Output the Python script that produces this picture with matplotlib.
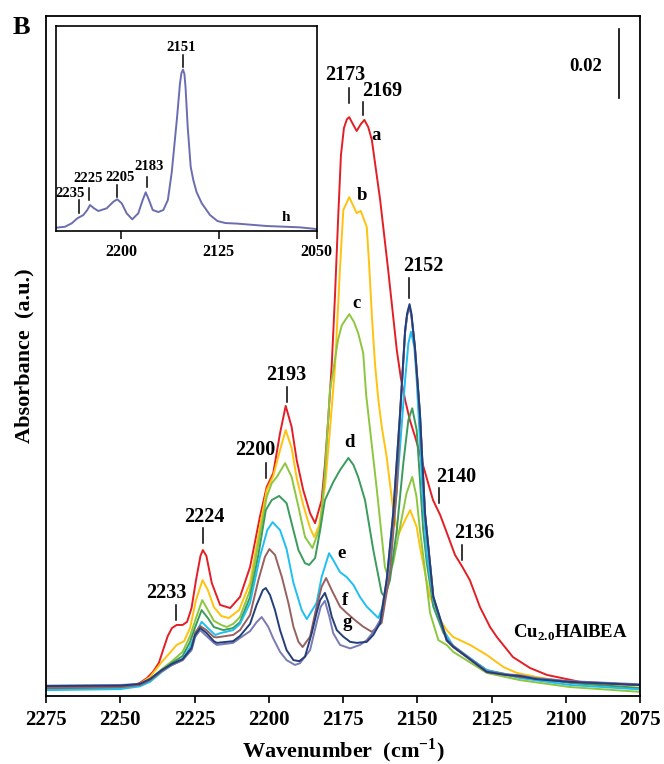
import matplotlib
matplotlib.use("Agg")
import matplotlib.pyplot as plt

plt.rcParams['font.family'] = ['Liberation Serif', 'DejaVu Serif']
plt.rcParams['font.weight'] = 'bold'
plt.rcParams['mathtext.fontset'] = 'custom'
plt.rcParams['mathtext.rm'] = 'Liberation Serif:bold'
plt.rcParams['mathtext.bf'] = 'Liberation Serif:bold'

# ---- spectra (wavenumber in cm-1, absorbance) ----
wn_a = [2275, 2260, 2250, 2245, 2243.4, 2241, 2239, 2237, 2235.6, 2234, 2232.6, 2231, 2229, 2227.5, 2226,
        2224.5, 2223, 2222.2, 2221, 2219.2, 2216.4, 2213, 2209.7, 2206.3, 2203, 2200.7, 2198.5, 2196.2, 2194.3,
        2192.3, 2190.6, 2188.4, 2186.1, 2184.4, 2182.2, 2181.1, 2180.0, 2178.8, 2177.7, 2176.6, 2175.7, 2174.7,
        2173.7, 2172.9, 2171.5, 2170.4, 2169, 2167.8, 2166.5, 2165.3, 2162.5, 2159.8, 2156.9, 2155.5, 2154,
        2152.5, 2150.5, 2148.0, 2144.7, 2142.3, 2140.0, 2137.3, 2135.0, 2132.3, 2128.9, 2125.5, 2123.2, 2117.8,
        2112, 2106.3, 2095.2, 2075]
abs_a = [0.0026, 0.0026, 0.0029, 0.0033, 0.0038, 0.0052, 0.0070, 0.0096, 0.0133, 0.0174, 0.0197, 0.0206, 0.0206,
         0.0215, 0.0255, 0.0336, 0.0406, 0.0423, 0.0406, 0.0328, 0.0264, 0.0255, 0.0287, 0.0374, 0.0519, 0.0606,
         0.0646, 0.0762, 0.0841, 0.0780, 0.0684, 0.0597, 0.0530, 0.0501, 0.0568, 0.0670, 0.0800, 0.0959, 0.1162,
         0.1394, 0.1568, 0.1646, 0.1672, 0.1678, 0.1655, 0.1638, 0.1658, 0.1670, 0.1649, 0.1612, 0.1438, 0.1235,
         0.1003, 0.0920, 0.0855, 0.0800, 0.0745, 0.0667, 0.0568, 0.0525, 0.0472, 0.0409, 0.0377, 0.0336, 0.0258,
         0.0200, 0.0171, 0.0113, 0.0081, 0.0061, 0.0041, 0.0032]

wn_b = [2275, 2250, 2243.4, 2240, 2236, 2233, 2231, 2228.5, 2226.5, 2224.5, 2222.3, 2220.5, 2218.5, 2216, 2213.5,
        2210, 2206.3, 2203, 2200.7, 2198.5, 2196.2, 2194.3, 2192.3, 2190.6, 2188.4, 2186.1, 2184.7, 2183, 2181,
        2179.5, 2177.7, 2176.0, 2174.9, 2172.9, 2170.4, 2169.0, 2167.0, 2166.2, 2165.2, 2164.2, 2163.1, 2161.9,
        2160.3, 2158.1, 2156.4, 2154.1, 2152.4, 2150.2, 2149.1, 2147.4, 2145.7, 2142.9, 2140.1, 2137.9, 2132.2,
        2126.6, 2121, 2116.5, 2109.8, 2095, 2075]
abs_b = [0.0023, 0.0026, 0.0035, 0.0055, 0.0099, 0.0128, 0.0148, 0.0159, 0.0197, 0.0278, 0.0336, 0.0307, 0.0258,
         0.0232, 0.0226, 0.0249, 0.0328, 0.0490, 0.0597, 0.0638, 0.0713, 0.0771, 0.0719, 0.0632, 0.0554, 0.0487,
         0.0461, 0.0496, 0.0612, 0.0762, 0.0954, 0.1243, 0.1409, 0.1446, 0.1400, 0.1406, 0.1359, 0.1249, 0.1090,
         0.0959, 0.0858, 0.0777, 0.0693, 0.0539, 0.0467, 0.0510, 0.0539, 0.0490, 0.0432, 0.0357, 0.0287, 0.0229,
         0.0191, 0.0171, 0.0148, 0.0119, 0.0084, 0.0067, 0.0055, 0.0035, 0.0023]

wn_c = [2275, 2250, 2243.4, 2240, 2236, 2232.6, 2229, 2226.5, 2224.5, 2222.4, 2220.5, 2218.5, 2216, 2214.2, 2212,
        2209.7, 2206.3, 2203.5, 2200.7, 2199, 2197.3, 2194.5, 2192.3, 2190, 2187.8, 2185.3, 2182.7, 2181.1, 2179.4,
        2178, 2176.7, 2175.4, 2172.9, 2171.3, 2169.9, 2168.2, 2167.2, 2163.6, 2160.9, 2159.8, 2158.1, 2155.8,
        2153.6, 2151.7, 2150.3, 2149.1, 2147.4, 2145.7, 2142.9, 2140.1, 2137.9, 2126.6, 2115.4, 2098.6, 2075]
abs_c = [0.0020, 0.0023, 0.0032, 0.0049, 0.0078, 0.0101, 0.0128, 0.0174, 0.0226, 0.0278, 0.0249, 0.0218, 0.0206,
         0.0200, 0.0209, 0.0229, 0.0307, 0.0443, 0.0577, 0.0617, 0.0635, 0.0675, 0.0635, 0.0548, 0.0461, 0.0429,
         0.0490, 0.0646, 0.0887, 0.0959, 0.1032, 0.1075, 0.1107, 0.1084, 0.1052, 0.0994, 0.0872, 0.0597, 0.0374,
         0.0345, 0.0386, 0.0490, 0.0588, 0.0635, 0.0580, 0.0481, 0.0365, 0.0241, 0.0162, 0.0148, 0.0128, 0.0067,
         0.0046, 0.0026, 0.0012]

wn_d = [2275, 2250, 2243.4, 2240, 2236, 2232.6, 2229, 2226.5, 2224.5, 2222.6, 2220.5, 2218.5, 2215.3, 2212, 2209.7,
        2206.3, 2203.5, 2201, 2199, 2196.5, 2194, 2192.3, 2190, 2187.8, 2186.4, 2184.4, 2182.7, 2181.1, 2178.3,
        2176, 2173.2, 2171.5, 2169.9, 2167.6, 2164.8, 2162, 2160.9, 2159.2, 2156.9, 2154.7, 2153, 2151.7, 2150.2,
        2149.1, 2148, 2146.8, 2144.6, 2141.2, 2137.9, 2126.6, 2115.4, 2098.6, 2075]
abs_d = [0.0022, 0.0025, 0.0032, 0.0046, 0.0075, 0.0096, 0.0116, 0.0157, 0.0206, 0.0249, 0.0226, 0.0200, 0.0191,
         0.0197, 0.0214, 0.0287, 0.0409, 0.0539, 0.0568, 0.0580, 0.0559, 0.0501, 0.0423, 0.0385, 0.0380, 0.0400,
         0.0481, 0.0568, 0.0620, 0.0655, 0.0690, 0.0670, 0.0635, 0.0568, 0.0423, 0.0299, 0.0287, 0.0336, 0.0481,
         0.0675, 0.0800, 0.0834, 0.0771, 0.0626, 0.0481, 0.0386, 0.0259, 0.0183, 0.0142, 0.0075, 0.0055, 0.0038,
         0.0023]

wn_e = [2275, 2250, 2243.4, 2240, 2236, 2232.6, 2229, 2226.5, 2224.5, 2222.6, 2220.5, 2218, 2216.4, 2212, 2209.7,
        2206.3, 2203, 2200.5, 2198.7, 2196.2, 2194, 2191.7, 2188.9, 2187.2, 2183.9, 2182.2, 2179.7, 2178.3, 2176,
        2173.8, 2171.5, 2169.3, 2167, 2163.1, 2161.4, 2159.2, 2156.9, 2155.8, 2154.1, 2153, 2152.1, 2151, 2150.2,
        2149.3, 2148.2, 2146.8, 2144.6, 2141.2, 2137.9, 2126.6, 2115.4, 2098.6, 2075]
abs_e = [0.0017, 0.0020, 0.0028, 0.0041, 0.0070, 0.0090, 0.0107, 0.0142, 0.0183, 0.0215, 0.0197, 0.0177, 0.0182,
         0.0191, 0.0209, 0.0270, 0.0403, 0.0481, 0.0504, 0.0481, 0.0426, 0.0328, 0.0249, 0.0223, 0.0270, 0.0345,
         0.0414, 0.0394, 0.0359, 0.0345, 0.0322, 0.0287, 0.0259, 0.0226, 0.0264, 0.0403, 0.0597, 0.0722, 0.0916,
         0.1022, 0.1056, 0.1012, 0.0916, 0.0771, 0.0578, 0.0414, 0.0278, 0.0191, 0.0145, 0.0075, 0.0052, 0.0032,
         0.0019]

wn_f = [2275, 2250, 2243.4, 2240, 2236, 2232.6, 2229, 2226, 2224.8, 2223.1, 2221, 2218.5, 2217.5, 2212, 2209.7,
        2206.3, 2203.5, 2201.3, 2199.8, 2197.9, 2195.6, 2193.4, 2191.7, 2190, 2188.6, 2186.1, 2183.9, 2182.2,
        2180.7, 2178.8, 2176, 2173.8, 2171, 2168.2, 2165.3, 2162, 2159.2, 2156.9, 2155.8, 2154.1, 2153.4, 2152.6,
        2152, 2150.8, 2149.1, 2147.4, 2144.6, 2140.1, 2137.9, 2126.6, 2115.4, 2098.6, 2075]
abs_f = [0.0023, 0.0026, 0.0032, 0.0046, 0.0072, 0.0090, 0.0104, 0.0139, 0.0183, 0.0203, 0.0191, 0.0171, 0.0170,
         0.0177, 0.0191, 0.0235, 0.0336, 0.0403, 0.0426, 0.0409, 0.0345, 0.0270, 0.0201, 0.0157, 0.0142, 0.0172,
         0.0259, 0.0317, 0.0342, 0.0307, 0.0259, 0.0241, 0.0220, 0.0201, 0.0186, 0.0212, 0.0357, 0.0597, 0.0810,
         0.1055, 0.1105, 0.1125, 0.1105, 0.1008, 0.0815, 0.0527, 0.0286, 0.0160, 0.0142, 0.0069, 0.0055, 0.0040,
         0.0031]

wn_g = [2275, 2250, 2243.4, 2240, 2236, 2232.6, 2229, 2226, 2224.8, 2223.1, 2221, 2218.5, 2217.5, 2212, 2209.7,
        2206.3, 2204.1, 2202, 2201, 2199.6, 2197.9, 2196.2, 2194, 2191.7, 2189.7, 2187.8, 2185.5, 2183.9, 2182.7,
        2181.1, 2179.9, 2178.8, 2177.1, 2174.9, 2172.6, 2170.4, 2167, 2164.8, 2162.5, 2160.3, 2158.1, 2155.8,
        2154.1, 2153.4, 2152.6, 2152, 2150.8, 2149.1, 2147.4, 2144.6, 2140.1, 2137.9, 2126.6, 2120, 2115.4, 2110,
        2098.6, 2075]
abs_g = [0.0029, 0.0030, 0.0035, 0.0049, 0.0075, 0.0093, 0.0107, 0.0139, 0.0177, 0.0197, 0.0183, 0.0159, 0.0154,
         0.0159, 0.0174, 0.0209, 0.0264, 0.0307, 0.0313, 0.0293, 0.0249, 0.0191, 0.0133, 0.0104, 0.0101, 0.0114,
         0.0183, 0.0241, 0.0278, 0.0299, 0.0270, 0.0230, 0.0191, 0.0172, 0.0157, 0.0154, 0.0157, 0.0177, 0.0212,
         0.0336, 0.0530, 0.0819, 0.1061, 0.1110, 0.1136, 0.1110, 0.1012, 0.0819, 0.0530, 0.0288, 0.0162, 0.0143,
         0.0070, 0.0061, 0.0058, 0.0049, 0.0041, 0.0032]

wn_h = [2275, 2250, 2243.4, 2240, 2236, 2232.6, 2229, 2226, 2224.8, 2223.1, 2221, 2218.5, 2217.5, 2212, 2209.7,
        2206.3, 2204.1, 2202.4, 2200.2, 2198.5, 2196.2, 2194, 2191.2, 2189.5, 2186.1, 2183.9, 2182.5, 2181.1,
        2179.6, 2178.3, 2176, 2172.6, 2169.3, 2167, 2164.8, 2162.5, 2160.3, 2158.1, 2155.8, 2154.1, 2153.4, 2152.6,
        2152, 2150.8, 2149.1, 2147.4, 2144.6, 2140.1, 2137.9, 2126.6, 2120, 2115.4, 2110, 2098.6, 2075]
abs_h = [0.0030, 0.0032, 0.0035, 0.0049, 0.0075, 0.0090, 0.0104, 0.0133, 0.0171, 0.0191, 0.0174, 0.0154, 0.0148,
         0.0154, 0.0168, 0.0188, 0.0214, 0.0229, 0.0201, 0.0167, 0.0128, 0.0104, 0.0090, 0.0095, 0.0133, 0.0212,
         0.0259, 0.0276, 0.0230, 0.0182, 0.0148, 0.0138, 0.0148, 0.0162, 0.0186, 0.0220, 0.0336, 0.0530, 0.0819,
         0.1055, 0.1105, 0.1128, 0.1105, 0.1012, 0.0819, 0.0530, 0.0288, 0.0165, 0.0146, 0.0072, 0.0063, 0.0060,
         0.0052, 0.0043, 0.0034]

# inset spectrum (h)
wn_ins = [2250, 2242.9, 2237.7, 2233.4, 2228.8, 2225.8, 2223.7, 2220.6, 2217.3, 2210.9, 2205.8, 2202.8, 2199.4,
          2195.6, 2191.3, 2186.7, 2183.3, 2181, 2178.5, 2175.6, 2171.3, 2167.5, 2164, 2161, 2157, 2154.7, 2153.6,
          2152.4, 2151.3, 2150.4, 2148.8, 2146.5, 2144.5, 2142, 2138, 2131.7, 2126, 2120, 2111, 2088, 2063, 2050]
abs_ins = [0.0023, 0.0030, 0.0054, 0.0089, 0.0112, 0.0147, 0.0182, 0.0159, 0.0140, 0.0159, 0.0205, 0.0222, 0.0194,
           0.0124, 0.0082, 0.0124, 0.0217, 0.0271, 0.0217, 0.0147, 0.0133, 0.0147, 0.0217, 0.0413, 0.0790, 0.1033,
           0.1105, 0.1129, 0.1098, 0.1000, 0.0729, 0.0450, 0.0357, 0.0273, 0.0194, 0.0112, 0.0070, 0.0056, 0.0052,
           0.0035, 0.0026, 0.0014]

main_ticks = [2275, 2250, 2225, 2200, 2175, 2150, 2125, 2100, 2075]
inset_ticks = [2200, 2125, 2050]

curves = [
    (wn_a, abs_a, '#e31e24'),
    (wn_b, abs_b, '#ffc20e'),
    (wn_c, abs_c, '#8dc63f'),
    (wn_d, abs_d, '#3a9b5c'),
    (wn_e, abs_e, '#1fbff0'),
    (wn_f, abs_f, '#98605e'),
    (wn_h, abs_h, '#7a7bb3'),
    (wn_g, abs_g, '#223f7a'),
]

fig = plt.figure(figsize=(6.64, 7.64), dpi=100)
ax = fig.add_axes([0.0693, 0.0890, 0.8946, 0.8904])

for x, y, c in curves:
    ax.plot(x, y, color=c, lw=1.4, solid_joinstyle='round')

ax.set_xlim(2275, 2075)
ax.set_ylim(0, 0.1972)
ax.set_xticks(main_ticks)
ax.set_xticklabels([str(t) for t in main_ticks], fontsize=15, fontweight='bold')
ax.set_yticks([])
ax.tick_params(axis='x', direction='out', length=5, width=1.2, pad=5)
for s in ax.spines.values():
    s.set_linewidth(1.3)
ax.set_xlabel('Wavenumber  (cm$^{-1}$)', fontsize=16, fontweight='bold', labelpad=5)
ax.set_ylabel('Absorbance  (a.u.)', fontsize=16, fontweight='bold', labelpad=8)


def mark(axis, label, xt, yt, xl, y0, y1, size):
    axis.text(xt, yt, label, ha='center', va='center', fontsize=size, fontweight='bold')
    axis.plot([xl, xl], [y0, y1], color='black', lw=1.1)


# peak labels in the main panel
mark(ax, '2173', 2174.3, 0.1800, 2172.9, 0.1762, 0.1719, 14.5)
mark(ax, '2169', 2161.9, 0.1753, 2168.2, 0.1722, 0.1684, 14.5)
mark(ax, '2152', 2148.1, 0.1246, 2152.8, 0.1212, 0.1154, 14.5)
mark(ax, '2193', 2194.2, 0.0930, 2194.0, 0.0896, 0.0852, 14.5)
mark(ax, '2200', 2204.6, 0.0713, 2200.9, 0.0675, 0.0632, 14.5)
mark(ax, '2224', 2221.8, 0.0519, 2222.2, 0.0487, 0.0443, 14.5)
mark(ax, '2233', 2234.6, 0.0299, 2231.3, 0.0264, 0.0220, 14.5)
mark(ax, '2140', 2137.0, 0.0635, 2142.6, 0.0603, 0.0559, 14.5)
mark(ax, '2136', 2130.9, 0.0472, 2134.9, 0.0438, 0.0394, 14.5)

for lab, xt, yt in [('a', 2163.9, 0.1626), ('b', 2168.5, 0.1452), ('c', 2170.4, 0.1139),
                    ('d', 2172.9, 0.0736), ('e', 2175.4, 0.0414), ('f', 2174.3, 0.0278),
                    ('g', 2173.6, 0.0212)]:
    ax.text(xt, yt, lab, ha='center', va='center', fontsize=13.5, fontweight='bold')

ax.text(2098.6, 0.0183, r'Cu$_{\mathbf{2.0}}$HAlBEA', ha='center', va='center',
        fontsize=13.5, fontweight='bold')

# 0.02 scale bar
ax.plot([2082.1, 2082.1], [0.1933, 0.1733], color='black', lw=1.2)
ax.text(2093.2, 0.1826, '0.02', ha='center', va='center', fontsize=13.5, fontweight='bold')

fig.text(0.033, 0.964, 'B', fontsize=19, fontweight='bold', ha='center', va='center')

# inset
ins = fig.add_axes([0.0839, 0.6976, 0.3928, 0.2683])
ins.plot(wn_ins, abs_ins, color='#6a6db0', lw=1.4, solid_joinstyle='round')
ins.set_xlim(2250, 2050)
ins.set_ylim(0, 0.1434)
ins.set_xticks(inset_ticks)
ins.set_xticklabels([str(t) for t in inset_ticks], fontsize=11.5, fontweight='bold')
ins.set_yticks([])
ins.tick_params(axis='x', direction='out', length=6, width=1.1, pad=3)
for s in ins.spines.values():
    s.set_linewidth(1.2)

mark(ins, '2151', 2153.9, 0.1287, 2152.1, 0.1231, 0.1147, 10.5)
mark(ins, '2183', 2178.1, 0.0448, 2180.0, 0.0378, 0.0308, 10.5)
mark(ins, '2205', 2200.3, 0.0378, 2202.8, 0.0322, 0.0238, 10.5)
mark(ins, '2225', 2225.2, 0.0371, 2224.7, 0.0301, 0.0217, 10.5)
mark(ins, '2235', 2239.0, 0.0266, 2231.9, 0.0217, 0.0126, 10.5)
ins.text(2073.4, 0.0098, 'h', ha='center', va='center', fontsize=11, fontweight='bold')

fig.savefig('out.png', dpi=100)
